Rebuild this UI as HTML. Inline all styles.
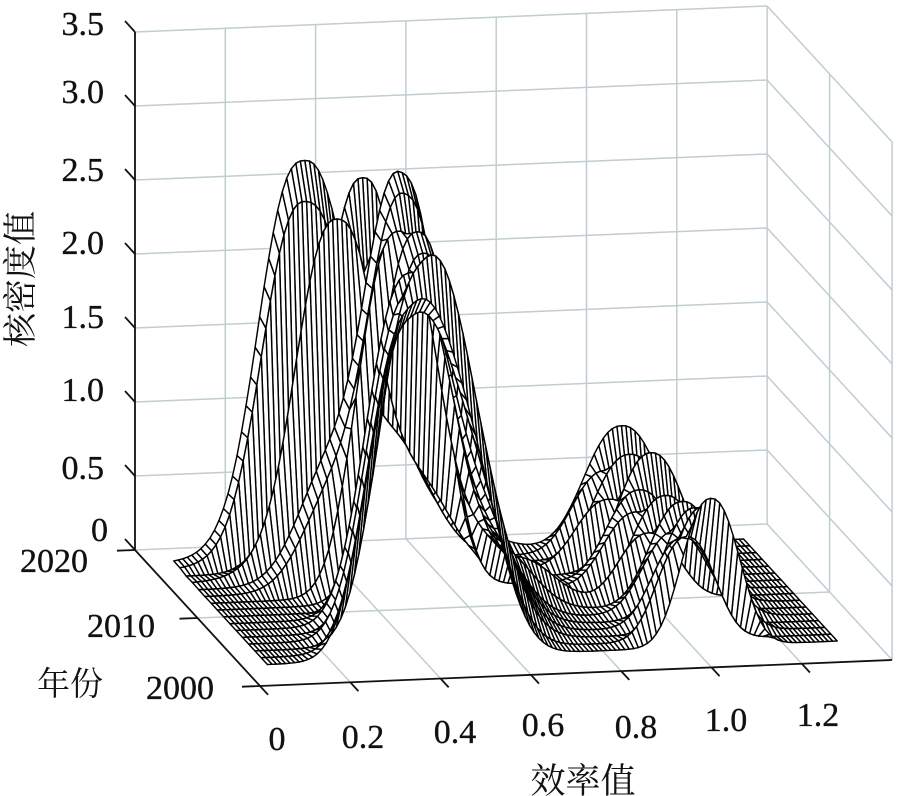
<!DOCTYPE html>
<html><head><meta charset="utf-8">
<style>
html,body{margin:0;padding:0;background:#fff;}
svg{display:block;}
.g{stroke:#c0cdd1;stroke-width:1.5;fill:none;}
.ax{stroke:#111;stroke-width:1.8;fill:none;}
.t{font-family:"Liberation Serif","Noto Serif CJK SC",serif;font-size:34px;fill:#111;stroke:#111;stroke-width:0.35;}
.c{font-family:"Liberation Serif","Noto Serif CJK SC","Noto Sans CJK SC",serif;fill:#111;}
#surf path{fill:#fff;stroke:#000;stroke-width:1.45;stroke-linejoin:round;}
</style></head>
<body>
<svg id="sv" width="900" height="796" viewBox="0 0 900 796" xmlns="http://www.w3.org/2000/svg">
<g id="grid" class="g"></g>
<g id="axes" class="ax"></g>
<g id="surf"></g>
<g class="t" text-anchor="end">
<text x="104" y="35">3.5</text>
<text x="104" y="103">3.0</text>
<text x="104" y="181">2.5</text>
<text x="104" y="254">2.0</text>
<text x="104" y="328">1.5</text>
<text x="104" y="401">1.0</text>
<text x="104" y="479">0.5</text>
<text x="108" y="541">0</text>
</g>
<g class="t" text-anchor="middle">
<text x="54" y="572">2020</text>
<text x="121" y="637">2010</text>
<text x="180" y="699">2000</text>
<text x="277" y="750">0</text>
<text x="363" y="748">0.2</text>
<text x="455" y="743">0.4</text>
<text x="543" y="736">0.6</text>
<text x="636" y="738">0.8</text>
<text x="726" y="731">1.0</text>
<text x="818" y="726">1.2</text>
</g>
<text class="c" x="70" y="695" font-size="33" text-anchor="middle">年份</text>
<text class="c" x="583" y="793" font-size="35" text-anchor="middle">效率值</text>
<g transform="translate(19,279) rotate(-90)"><text class="c" x="0" y="13" font-size="34" text-anchor="middle">核密度值</text></g>
</svg>
<script>
(function(){
function P(x,t,z){return [135+451.5*x+6.25*t, 550-18.6*x+6.8*t-148*z];}
function L(a,b){return '<line x1="'+a[0].toFixed(1)+'" y1="'+a[1].toFixed(1)+'" x2="'+b[0].toFixed(1)+'" y2="'+b[1].toFixed(1)+'"/>';}
var g='',i,x,z;
for(i=1;i<=7;i++){x=i*0.2;g+=L(P(x,0,0),P(x,0,3.5));}
for(i=0;i<=7;i++){z=i*0.5;g+=L(P(0,0,z),P(1.4,0,z));}
g+=L(P(1.4,10,0),P(1.4,10,3.5));g+=L(P(1.4,20,0),P(1.4,20,3.5));
for(i=0;i<=7;i++){z=i*0.5;g+=L(P(1.4,0,z),P(1.4,20,z));}
for(i=1;i<=6;i++){x=i*0.2;g+=L(P(x,0,0),P(x,20,0));}
g+=L(P(0,10,0),P(1.4,10,0));
document.getElementById('grid').innerHTML=g;
var a='';
a+=L(P(0,0,0),P(0,0,3.5));
for(i=0;i<=7;i++){var p=P(0,0,i*0.5);a+=L(p,[p[0]-10,p[1]-11]);}
a+=L(P(0,0,0),P(0,20,0));
a+=L(P(0,20,0),P(1.4,20,0));
for(i=0;i<=6;i++){var q=P(i*0.2,20,0);a+=L(q,[q[0]+8.1,q[1]+8.8]);}
for(i=0;i<=2;i++){var r=P(0,i*10,0);a+=L(r,[r[0]-18,r[1]+0.7]);}
document.getElementById('axes').innerHTML=a;

// [mu, h, sigma, exponent]
var rows=[
[[0.345,2.5,0.088,2.4],[0.52,0.9,0.08],[0.72,0.12,0.06],[1.05,0.8,0.08,2.3],[0.24,0.3,0.07]],
[[0.34,2.3,0.088,2.4],[0.53,0.8,0.08],[1.0,0.55,0.07,2.3],[0.24,0.28,0.07]],
[[0.45,2.6,0.08,2.4],[0.3,0.5,0.06],[0.62,0.4,0.07],[1.04,0.7,0.075,2.3]],
[[0.38,2.35,0.085,2.4],[0.56,0.6,0.07],[0.98,0.45,0.07,2.3],[0.26,0.2,0.07]],
[[0.51,2.7,0.08,2.4],[0.35,0.8,0.07],[1.06,0.8,0.07,2.3]],
[[0.505,2.6,0.08,2.4],[0.35,0.7,0.07],[1.02,0.6,0.07,2.3]],
[[0.47,2.45,0.085,2.4],[0.65,0.35,0.07],[1.0,0.5,0.07,2.3]],
[[0.5,2.5,0.085,2.4],[0.7,0.25,0.06],[1.05,0.65,0.07,2.3]],
[[0.5,2.4,0.085,2.4],[0.72,0.3,0.07],[1.0,0.45,0.065,2.3]],
[[0.46,2.3,0.09,2.4],[0.66,0.4,0.07],[1.06,0.7,0.07,2.3]],
[[0.44,2.35,0.09,2.4],[0.62,0.5,0.07],[1.03,0.55,0.068,2.3]],
[[0.44,2.2,0.09,2.4],[0.6,0.6,0.07],[1.06,0.75,0.068,2.3]],
[[0.415,2.3,0.09,2.4],[0.58,0.7,0.07],[1.02,0.6,0.065,2.3]],
[[0.425,2.45,0.09,2.4],[0.56,0.8,0.07],[1.05,0.85,0.065,2.3]],
[[0.39,2.2,0.09,2.4],[0.54,0.9,0.065],[1.0,0.7,0.062,2.3]],
[[0.375,2.3,0.09,2.4],[0.52,1.0,0.065],[1.04,1.0,0.062,2.3]]
];
var N=rows.length, ts=[], xs=[], K=126, x0=0.058, x1=1.32, k;
for(i=0;i<N;i++)ts.push(2+i);
for(k=0;k<=K;k++)xs.push(x0+k*(x1-x0)/K);
function f(i,x){var s=0,r=rows[i];for(var j=0;j<r.length;j++){var d=Math.abs((x-r[j][0])/r[j][2]);var e=r[j][3]||2;s+=r[j][1]*Math.exp(-0.5*Math.pow(d,e));}return s;}
var pts=[];
for(i=0;i<N;i++){var row=[];for(k=0;k<=K;k++)row.push(P(xs[k],ts[i],f(i,xs[k])));pts.push(row);}
function s(p){return p[0].toFixed(1)+','+p[1].toFixed(1);}
var quads=[];
for(i=0;i<N-1;i++)for(k=0;k<K;k++){
 var A=pts[i][k],B=pts[i][k+1],C=pts[i+1][k+1],D=pts[i+1][k];
 var dep=18.6*(xs[k]+xs[k+1])/2-6.8*(ts[i]+ts[i+1])/2;
 quads.push([dep,'M'+s(A)+'L'+s(B)+'L'+s(C)+'L'+s(D)+'Z']);
}
quads.sort(function(p,q){return q[0]-p[0];});
var h='';for(i=0;i<quads.length;i++)h+='<path d="'+quads[i][1]+'"/>';
document.getElementById('surf').innerHTML=h;
})();
</script>
</body></html>
